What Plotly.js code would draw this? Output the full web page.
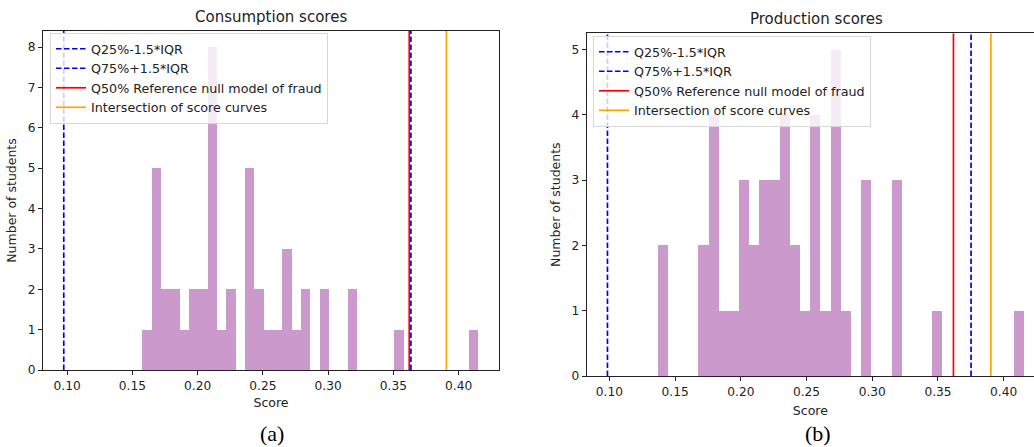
<!DOCTYPE html>
<html>
<head>
<meta charset="utf-8">
<script src="https://cdn.plot.ly/plotly-3.0.1.min.js"></script>
<style>html,body{margin:0;padding:0;background:#fff;}#chart{width:1034px;height:447px;}</style>
</head>
<body>
<div id="chart"></div>
<script>
// ---- Data ----
// Consumption histogram: 36 equal bins between these edges
const consBinStart = 0.1576;
const consBinEnd = 0.4150;
const consCounts = [1,5,2,2,1,2,2,8,1,2,0,5,2,1,1,3,1,2,0,2,0,0,2,0,0,0,0,1,0,0,0,0,0,0,0,1];
const consQ25 = 0.0974;   // Q25%-1.5*IQR
const consQ75 = 0.3634;   // Q75%+1.5*IQR
const consQ50 = 0.3621;   // Q50% reference null model
const consInter = 0.3906; // intersection of score curves

// Production histogram: 36 equal bins between these edges
const prodBinStart = 0.1368;
const prodBinEnd = 0.4153;
const prodCounts = [2,0,0,0,2,4,1,1,3,2,3,3,4,2,1,4,1,5,1,0,3,0,0,3,0,0,0,1,0,0,0,0,0,0,0,1];
const prodQ25 = 0.0985;
const prodQ75 = 0.3752;
const prodQ50 = 0.3618;
const prodInter = 0.3903;

const legendNames = ['Q25%-1.5*IQR', 'Q75%+1.5*IQR', 'Q50% Reference null model of fraud', 'Intersection of score curves'];
const xTickVals = [0.10, 0.15, 0.20, 0.25, 0.30, 0.35, 0.40];
const titles = ['Consumption scores', 'Production scores'];
const subLabels = ['(a)', '(b)'];

// ---- Build traces ----
const FONT = 'DejaVu Sans, Verdana, sans-serif';
const BAR = 'rgba(128,0,128,0.4)';

function histTrace(start, end, counts, xa, ya) {
  const n = counts.length, w = (end - start) / n;
  const xs = counts.map((_, i) => start + (i + 0.5) * w);
  return {type: 'bar', x: xs, y: counts, width: w, marker: {color: BAR, line: {width: 0}},
          xaxis: xa, yaxis: ya, showlegend: false, hoverinfo: 'skip'};
}
function vline(x, top, name, color, dash, xa, ya, leg) {
  return {type: 'scatter', mode: 'lines', x: [x, x], y: [0, top], name: name,
          line: {color: color, width: 1.7, dash: dash}, xaxis: xa, yaxis: ya, legend: leg};
}
const DASH = '5.5px,2.5px';
const consTop = 8.4, prodTop = 5.25;

const data = [
  histTrace(consBinStart, consBinEnd, consCounts, 'x', 'y'),
  vline(consQ25, consTop, legendNames[0], '#0000ff', DASH, 'x', 'y', 'legend'),
  vline(consQ75, consTop, legendNames[1], '#0000ff', DASH, 'x', 'y', 'legend'),
  vline(consQ50, consTop, legendNames[2], '#ff0000', 'solid', 'x', 'y', 'legend'),
  vline(consInter, consTop, legendNames[3], '#ffa500', 'solid', 'x', 'y', 'legend'),
  histTrace(prodBinStart, prodBinEnd, prodCounts, 'x2', 'y2'),
  vline(prodQ25, prodTop, legendNames[0], '#0000ff', DASH, 'x2', 'y2', 'legend2'),
  vline(prodQ75, prodTop, legendNames[1], '#0000ff', DASH, 'x2', 'y2', 'legend2'),
  vline(prodQ50, prodTop, legendNames[2], '#ff0000', 'solid', 'x2', 'y2', 'legend2'),
  vline(prodInter, prodTop, legendNames[3], '#ffa500', 'solid', 'x2', 'y2', 'legend2')
];

const W = 1034, H = 447;
const TXT = '#222';
const axBase = {showgrid: false, zeroline: false, showline: true, linecolor: TXT, linewidth: 1,
  ticks: 'outside', ticklen: 4, tickcolor: TXT, tickfont: {family: FONT, size: 12.2, color: TXT},
  fixedrange: true};
const axTitleFont = {family: FONT, size: 12.5, color: TXT};

const legBase = {font: {family: FONT, size: 12.7, color: TXT}, bgcolor: 'rgba(255,255,255,0.8)',
  bordercolor: '#d8d8d8', borderwidth: 1, xanchor: 'left', yanchor: 'top', tracegroupgap: 0};

const layout = {
  width: W, height: H, margin: {l: 0, r: 0, t: 0, b: 0},
  paper_bgcolor: '#fff', plot_bgcolor: '#fff', bargap: 0, barmode: 'overlay',
  font: {family: FONT, size: 12, color: TXT},
  xaxis: Object.assign({}, axBase, {domain: [43 / W, 499 / W], range: [0.0815, 0.4309], mirror: true,
    tickvals: xTickVals, tickformat: '.2f', anchor: 'y',
    title: {text: 'Score', font: axTitleFont, standoff: 6}}),
  yaxis: Object.assign({}, axBase, {domain: [1 - 370 / H, 1 - 31 / H], range: [0, consTop], mirror: true,
    dtick: 1, anchor: 'x',
    title: {text: 'Number of students', font: axTitleFont, standoff: 8}}),
  xaxis2: Object.assign({}, axBase, {domain: [586.7 / W, 1], range: [0.0827, 0.4231], mirror: true,
    tickvals: xTickVals, tickformat: '.2f', anchor: 'y2',
    title: {text: 'Score', font: axTitleFont, standoff: 8}}),
  yaxis2: Object.assign({}, axBase, {domain: [1 - 376 / H, 1 - 33.3 / H], range: [0, prodTop], mirror: false,
    dtick: 1, anchor: 'x2',
    title: {text: 'Number of students', font: axTitleFont, standoff: 8}}),
  legend: Object.assign({}, legBase, {x: 50 / W, y: 1 - 33 / H}),
  legend2: Object.assign({}, legBase, {x: 593 / W, y: 1 - 36 / H}),
  annotations: [
    {text: titles[0], xref: 'paper', yref: 'paper', x: 271 / W, y: 1 - 17 / H, showarrow: false,
     xanchor: 'center', yanchor: 'middle', font: {family: FONT, size: 15, color: TXT}},
    {text: titles[1], xref: 'paper', yref: 'paper', x: 816 / W, y: 1 - 19 / H, showarrow: false,
     xanchor: 'center', yanchor: 'middle', font: {family: FONT, size: 15, color: TXT}},
    {text: subLabels[0], xref: 'paper', yref: 'paper', x: 271.7 / W, y: 1 - 433 / H, showarrow: false,
     xanchor: 'center', yanchor: 'middle', font: {family: 'Liberation Serif, Times New Roman, serif', size: 22, color: '#000'}},
    {text: subLabels[1], xref: 'paper', yref: 'paper', x: 818 / W, y: 1 - 433 / H, showarrow: false,
     xanchor: 'center', yanchor: 'middle', font: {family: 'Liberation Serif, Times New Roman, serif', size: 22, color: '#000'}}
  ]
};

Plotly.newPlot('chart', data, layout, {staticPlot: true, displayModeBar: false});
</script>
</body>
</html>
